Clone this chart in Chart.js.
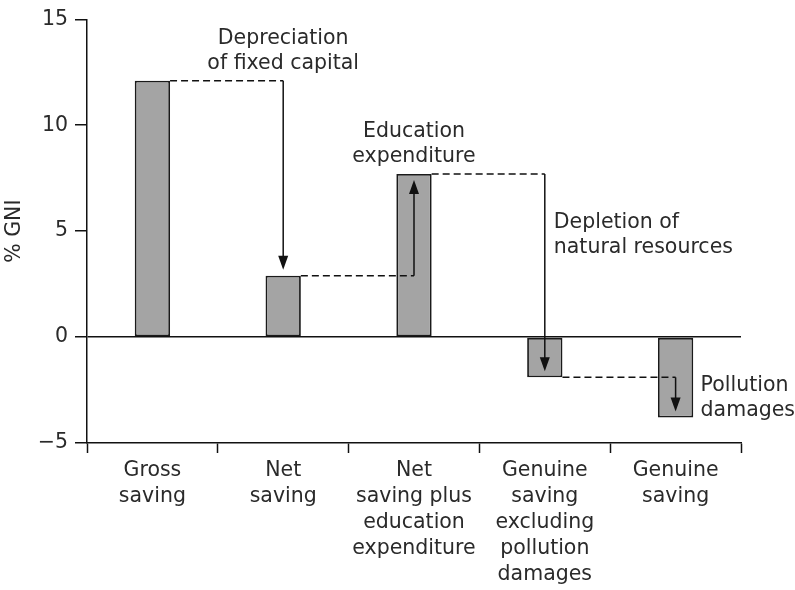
<!DOCTYPE html>
<html>
<head>
<meta charset="utf-8">
<script src="https://cdn.jsdelivr.net/npm/chart.js@4/dist/chart.umd.min.js"></script>
<style>
  html, body { margin: 0; padding: 0; background: #fff; }
  canvas { display: block; }
</style>
</head>
<body>
<canvas id="plot" width="795" height="590"></canvas>
<script>
const categories = [
    ['Gross', 'saving'],
    ['Net', 'saving'],
    ['Net', 'saving plus', 'education', 'expenditure'],
    ['Genuine', 'saving', 'excluding', 'pollution', 'damages'],
    ['Genuine', 'saving']
];
const savingValues = [12.1, 2.9, 7.7, -1.9, -3.8];
const yTicks = [-5, 0, 5, 10, 15];
const stepLabels = [
    ['Depreciation', 'of fixed capital'],
    ['Education', 'expenditure'],
    ['Depletion of', 'natural resources'],
    ['Pollution', 'damages']
];

const FONT = '"DejaVu Sans", sans-serif';
const FONT_SIZE = 20.5;
const TEXT = '#2a2a2a';

// where each step label sits relative to its arrow: [align, dx, dy of first line, anchor]
const labelPlace = [
    ['center', 0, -42, 'from'],
    ['center', 0, -42, 'to'],
    ['left', 9, 49, 'from'],
    ['left', 25, 8, 'from']
];

const stepArrows = {
    id: 'stepArrows',
    afterDatasetsDraw(chart) {
        const ctx = chart.ctx;
        const bars = chart.getDatasetMeta(0).data;
        ctx.save();
        ctx.strokeStyle = '#111';
        ctx.fillStyle = '#111';
        ctx.lineWidth = 1.5;
        for (let i = 0; i < bars.length - 1; i++) {
            const a = bars[i], b = bars[i + 1];
            const y0 = a.y, y1 = b.y;
            const xs = a.x + a.width / 2;
            const xe = b.x;
            // dashed link
            ctx.setLineDash([7, 4]);
            ctx.beginPath();
            ctx.moveTo(xs, y0);
            ctx.lineTo(xe, y0);
            ctx.stroke();
            // arrow
            ctx.setLineDash([]);
            const dir = y1 > y0 ? 1 : -1;
            const tip = y1 - dir * 6;
            ctx.beginPath();
            ctx.moveTo(xe, y0);
            ctx.lineTo(xe, tip - dir * 10);
            ctx.stroke();
            ctx.beginPath();
            ctx.moveTo(xe, tip);
            ctx.lineTo(xe - 5, tip - dir * 14);
            ctx.lineTo(xe + 5, tip - dir * 14);
            ctx.closePath();
            ctx.fill();

            const [align, dx, dy, anchor] = labelPlace[i];
            const baseY = anchor === 'from' ? y0 : y1;
            ctx.fillStyle = TEXT;
            ctx.font = FONT_SIZE + 'px ' + FONT;
            ctx.textAlign = align;
            ctx.textBaseline = 'middle';
            stepLabels[i].forEach((line, k) => {
                ctx.fillText(line, xe + dx, baseY + dy + k * 25);
            });
            ctx.fillStyle = '#111';
        }
        ctx.restore();
    }
};

new Chart(document.getElementById('plot').getContext('2d'), {
    type: 'bar',
    data: {
        labels: categories,
        datasets: [{
            data: savingValues,
            backgroundColor: '#a4a4a4',
            borderColor: '#1a1a1a',
            borderWidth: 1.8,
            borderSkipped: false,
            barPercentage: 0.27,
            categoryPercentage: 1
        }]
    },
    options: {
        responsive: false,
        devicePixelRatio: 1,
        animation: false,
        layout: { padding: { top: 19, right: 54, left: 0, bottom: 0 } },
        plugins: {
            legend: { display: false },
            tooltip: { enabled: false }
        },
        scales: {
            x: {
                afterFit(scale) { scale.height = 147; },
                border: { color: '#111', width: 1.5 },
                grid: {
                    offset: true,
                    drawOnChartArea: false,
                    color: 'transparent',
                    tickColor: '#111',
                    tickLength: 10,
                    tickWidth: 1.5
                },
                ticks: {
                    color: TEXT,
                    font: { family: FONT, size: FONT_SIZE, lineHeight: 1.27 },
                    padding: 5,
                    maxRotation: 0,
                    autoSkip: false
                }
            },
            y: {
                min: -5,
                max: 15,
                afterFit(scale) { scale.width = 87; },
                afterBuildTicks(scale) { scale.ticks = yTicks.map(v => ({ value: v })); },
                border: { color: '#111', width: 1.5 },
                grid: {
                    color: c => (c.tick && c.tick.value === 0 ? '#111' : 'transparent'),
                    lineWidth: 1.5,
                    tickColor: '#111',
                    tickLength: 12,
                    tickWidth: 1.5
                },
                ticks: {
                    color: TEXT,
                    font: { family: FONT, size: FONT_SIZE },
                    padding: 7,
                    callback: v => String(v).replace('-', '\u2212')
                },
                title: {
                    display: true,
                    text: '% GNI',
                    color: TEXT,
                    font: { family: FONT, size: FONT_SIZE },
                    padding: { top: 2, bottom: 0 }
                }
            }
        }
    },
    plugins: [stepArrows]
});
</script>
</body>
</html>
